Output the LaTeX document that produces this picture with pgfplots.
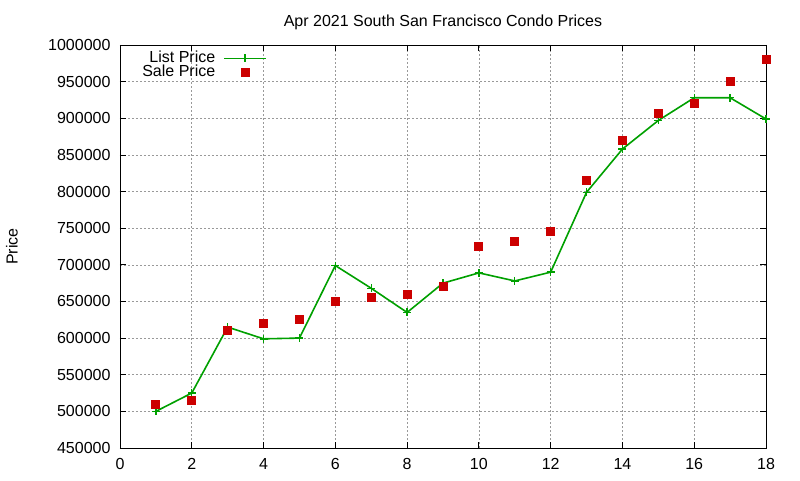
\documentclass[border=0pt]{standalone}
\usepackage{pgfplots}
\pgfplotsset{compat=1.18}
\usepackage{fontspec}
\setmainfont{Liberation Sans}
\definecolor{lgreen}{RGB}{0,160,0}
\definecolor{sred}{RGB}{204,0,0}
\begin{document}
\fontsize{16}{18}\selectfont
\begin{tikzpicture}
\path[use as bounding box] (-120pt,-32pt) rectangle (680pt,448pt);
\begin{axis}[
  scale only axis,
  width=646pt, height=403pt,
  xmin=0, xmax=18, ymin=450000, ymax=1000000,
  xtick={0,2,...,18},
  ytick={450000,500000,...,1000000},
  scaled y ticks=false,
  /pgf/number format/assume math mode=true,
  yticklabel style={/pgf/number format/fixed,/pgf/number format/1000 sep={}, xshift=-4pt},
  xticklabel style={yshift=-5pt},
  tick label style={font=\fontsize{16}{18}\selectfont},
  tick align=inside,
  major tick length=6pt,
  every tick/.style={black, line width=0.8pt},
  axis line style={black, line width=0.8pt},
  grid=major,
  major grid style={black!40, dash pattern=on 2pt off 2pt, line width=0.6pt},
  title={Apr 2021 South San Francisco Condo Prices},
  title style={font=\fontsize{16}{18}\selectfont, at={(0.5,1)}, anchor=south, yshift=4pt},
  ylabel={Price},
  ylabel style={font=\fontsize{16}{18}\selectfont, at={(axis description cs:0,0.5)}, anchor=center, yshift=108pt},
  legend style={at={(0.2276,1)}, anchor=north east, draw=none, fill=none,
     font=\fontsize{16}{18}\selectfont, row sep=0pt, inner sep=0pt, yshift=-6pt,
     nodes={inner sep=0pt, text height=11pt, text depth=3.5pt},
     /tikz/every odd column/.style={column sep=8pt}},
  legend cell align=right,
  legend plot pos=right,
  legend image code/.code={\draw[line width=1.6pt,mark repeat=2,mark phase=2,#1] plot coordinates {(0pt,0pt) (21pt,0pt) (42pt,0pt)};},
]
\addplot[lgreen, line width=1.6pt, mark=+, mark size=4pt, mark options={line width=1.4pt}] coordinates {
(1,500000) (2,525000) (3,615000) (4,599000) (5,600000) (6,699000)
(7,668000) (8,635000) (9,675000) (10,689000) (11,678000) (12,690000)
(13,799000) (14,858000) (15,897000) (16,928000) (17,928000) (18,899000)
};
\addlegendentry{List Price}
\addplot[only marks, mark=square*, mark size=4pt, sred, mark options={draw=sred, fill=sred, line width=0pt}] coordinates {
(1,510000) (2,515000) (3,610000) (4,620000) (5,625000) (6,650000)
(7,655000) (8,660000) (9,670000) (10,725000) (11,732000) (12,745000)
(13,815000) (14,870000) (15,907000) (16,920000) (17,950000) (18,980000)
};
\addlegendentry{Sale Price}
\end{axis}
\end{tikzpicture}
\end{document}
